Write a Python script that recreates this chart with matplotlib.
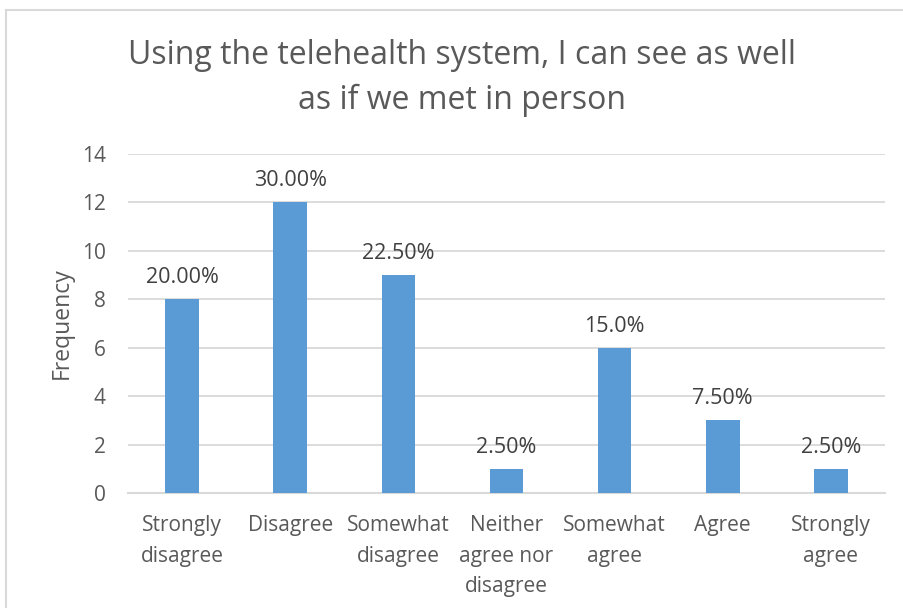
import matplotlib
matplotlib.use("Agg")
import matplotlib.pyplot as plt
from matplotlib.lines import Line2D

categories = ["Strongly\ndisagree", "Disagree", "Somewhat\ndisagree",
              "Neither\nagree nor\ndisagree", "Somewhat\nagree", "Agree",
              "Strongly\nagree"]
frequency = [8, 12, 9, 1, 6, 3, 1]
percent_labels = ["20.00%", "30.00%", "22.50%", "2.50%", "15.0%", "7.50%", "2.50%"]
y_ticks = [0, 2, 4, 6, 8, 10, 12, 14]

plt.rcParams["font.family"] = ["Open Sans", "DejaVu Sans"]
text_color = "#595959"
bar_color = "#5B9BD5"
grid_color = "#D9D9D9"

W, H = 904, 608
fig = plt.figure(figsize=(W / 100, H / 100), dpi=100)
ax = fig.add_axes([128 / W, 1 - 493 / H, (885 - 128) / W, (493 - 154) / H])

x = list(range(len(categories)))
ax.bar(x, frequency, width=0.31, color=bar_color, zorder=3)
ax.set_xlim(-0.5, len(categories) - 0.5)
ax.set_ylim(0, 14)
ax.set_yticks(y_ticks)
ax.set_yticklabels([str(t) for t in y_ticks])
ax.set_xticks(x)
ax.set_xticklabels(categories, linespacing=1.6)

for s in ["top", "right", "left"]:
    ax.spines[s].set_visible(False)
ax.spines["bottom"].set_color(grid_color)
ax.spines["bottom"].set_linewidth(1.5)
ax.yaxis.grid(True, color=grid_color, linewidth=1.3, zorder=0)
ax.tick_params(axis="both", length=0, colors=text_color, labelsize=15)
ax.tick_params(axis="y", pad=16)
ax.tick_params(axis="x", pad=16)

for xi, v, lab in zip(x, frequency, percent_labels):
    ax.annotate(lab, (xi, v), xytext=(0, 8), textcoords="offset points",
                ha="center", va="bottom", fontsize=15.5, color="#404040")

ax.set_ylabel("Frequency", fontsize=16.5, color=text_color, labelpad=6)

fig.text(462 / W, 1 - 78 / H, "Using the telehealth system, I can see as well\nas if we met in person",
         ha="center", va="center", fontsize=23, color=text_color, linespacing=1.45)

# light chart-area frame along the top and left edges
fig.add_artist(Line2D([6.5 / W, 1.0], [1 - 9.5 / H, 1 - 9.5 / H], color="#D9D9D9",
                      linewidth=1.5, transform=fig.transFigure))
fig.add_artist(Line2D([6.5 / W, 6.5 / W], [0, 1 - 9.5 / H], color="#D9D9D9",
                      linewidth=1.5, transform=fig.transFigure))

fig.savefig("out.png", dpi=100, facecolor="white")
